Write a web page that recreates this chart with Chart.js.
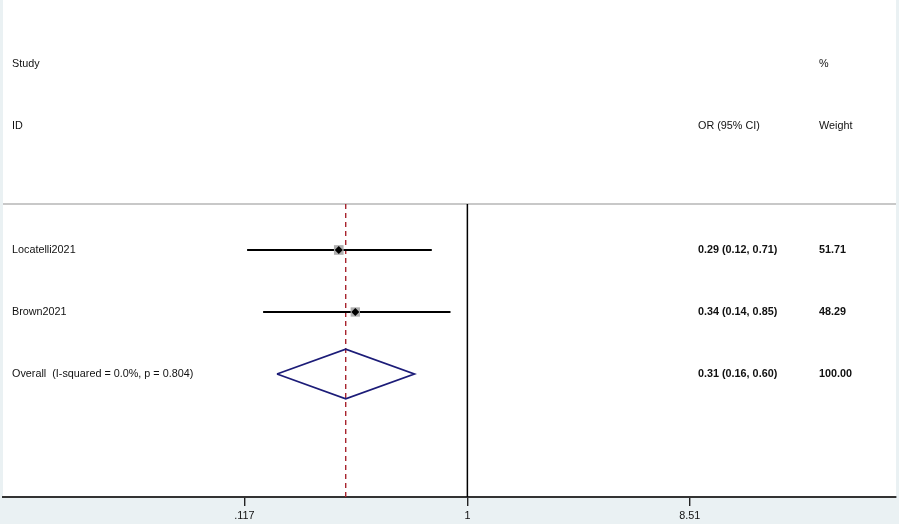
<!DOCTYPE html>
<html>
<head>
<meta charset="utf-8">
<script src="https://cdn.jsdelivr.net/npm/chart.js@4.4.1/dist/chart.umd.min.js"></script>
<style>
  body { margin: 0; background: #eaf1f3; }
  #wrap { width: 899px; height: 524px; }
</style>
</head>
<body>
<div id="wrap"><canvas id="forest" width="899" height="524"></canvas></div>
<script>
/* ---- data ---- */
const studies   = ['Locatelli2021', 'Brown2021'];
const orEst     = [0.29, 0.34];
const ciLow     = [0.12, 0.14];
const ciHigh    = [0.71, 0.85];
const weights   = [51.71, 48.29];
const overallLabel = 'Overall  (I-squared = 0.0%, p = 0.804)';
const overallEst  = 0.31;
const overallLow  = 0.16;
const overallHigh = 0.60;
const overallWeight = 100.00;
const tickValues = [0.117, 1, 8.51];
const tickLabels = ['.117', '1', '8.51'];

/* ---- row layout (y units, top = 0) ---- */
const ROW_HEAD1 = 1, ROW_HEAD2 = 2, ROW_SEP = 3.258, ROW_FIRST = 4;
const ROW_TOP = -0.032, ROW_BOTTOM = 7.984;
const rowOf = i => ROW_FIRST + i;
const overallRow = ROW_FIRST + studies.length;

const fmt = v => v.toFixed(2);
const FONT = '"Liberation Sans", Arial, sans-serif';

const datasets = [];

// point estimates (black diamond on top of grey weight box)
datasets.push({
    data: orEst.map((v, i) => ({ x: v, y: rowOf(i) })),
    pointStyle: 'rectRot', pointRadius: 4,
    backgroundColor: '#000', borderColor: '#000', borderWidth: 0, showLine: false
});
datasets.push({
    data: orEst.map((v, i) => ({ x: v, y: rowOf(i) })),
    pointStyle: 'rect', pointRadius: weights.map(w => Math.sqrt(w) * 0.95),
    backgroundColor: '#b0b0b0', borderColor: '#b0b0b0', borderWidth: 0, showLine: false
});

// confidence intervals
studies.forEach((s, i) => {
    datasets.push({
        data: [{ x: ciLow[i], y: rowOf(i) }, { x: ciHigh[i], y: rowOf(i) }],
        showLine: true, borderColor: '#000', borderWidth: 2, pointRadius: 0
    });
});

// overall diamond
datasets.push({
    data: [
        { x: overallLow, y: overallRow },
        { x: overallEst, y: overallRow - 0.4 },
        { x: overallHigh, y: overallRow },
        { x: overallEst, y: overallRow + 0.4 },
        { x: overallLow, y: overallRow }
    ],
    showLine: true, borderColor: '#1c1c78', borderWidth: 1.8, pointRadius: 0, fill: false
});

// overall effect dashed line
datasets.push({
    data: [{ x: overallEst, y: ROW_SEP }, { x: overallEst, y: ROW_BOTTOM }],
    showLine: true, borderColor: '#a8242e', borderWidth: 1.4, borderDash: [5, 4], pointRadius: 0
});

// null line
datasets.push({
    data: [{ x: 1, y: ROW_SEP }, { x: 1, y: ROW_BOTTOM }],
    showLine: true, borderColor: '#000', borderWidth: 1.5, pointRadius: 0
});

/* ---- plugins ---- */
const panelBg = {
    id: 'panelBg',
    beforeDraw(chart) {
        const { ctx, chartArea: a } = chart;
        ctx.save();
        ctx.fillStyle = '#eaf1f3';
        ctx.fillRect(0, 0, chart.width, chart.height);
        ctx.fillStyle = '#fff';
        ctx.fillRect(a.left, 0, a.right - a.left, a.bottom);
        // header separator
        const y = chart.scales.y.getPixelForValue(ROW_SEP);
        ctx.strokeStyle = '#c8c8c8';
        ctx.lineWidth = 2;
        ctx.beginPath();
        ctx.moveTo(a.left, y);
        ctx.lineTo(a.right, y);
        ctx.stroke();
        ctx.restore();
    }
};

const tableText = {
    id: 'tableText',
    afterDatasetsDraw(chart) {
        const { ctx, scales: { y } } = chart;
        const xStudy = 12, xOr = 698, xW = 819;
        ctx.save();
        ctx.fillStyle = '#111';
        ctx.textBaseline = 'middle';
        ctx.textAlign = 'left';
        const put = (t, x, row, bold) => {
            ctx.font = (bold ? 'bold ' : '') + '10.8px ' + FONT;
            ctx.fillText(t, x, y.getPixelForValue(row));
        };
        put('Study', xStudy, ROW_HEAD1);
        put('ID', xStudy, ROW_HEAD2);
        put('%', xW, ROW_HEAD1);
        put('OR (95% CI)', xOr, ROW_HEAD2);
        put('Weight', xW, ROW_HEAD2);
        studies.forEach((s, i) => {
            put(s, xStudy, rowOf(i));
            put(fmt(orEst[i]) + ' (' + fmt(ciLow[i]) + ', ' + fmt(ciHigh[i]) + ')', xOr, rowOf(i), true);
            put(fmt(weights[i]), xW, rowOf(i), true);
        });
        put(overallLabel, xStudy, overallRow);
        put(fmt(overallEst) + ' (' + fmt(overallLow) + ', ' + fmt(overallHigh) + ')', xOr, overallRow, true);
        put(fmt(overallWeight), xW, overallRow, true);
        ctx.restore();
    }
};

new Chart(document.getElementById('forest'), {
    type: 'scatter',
    data: { datasets },
    options: {
        responsive: false,
        animation: false,
        layout: { autoPadding: false, padding: { left: 3, right: 3, top: 0, bottom: 0 } },
        plugins: { legend: { display: false }, tooltip: { enabled: false } },
        scales: {
            x: {
                type: 'logarithmic',
                min: 0.01145,
                max: 61.9,
                afterBuildTicks: s => { s.ticks = tickValues.map(v => ({ value: v })); },
                afterFit: s => { s.height = 27; s.paddingLeft = 0; s.paddingRight = 0; },
                ticks: {
                    autoSkip: false, maxRotation: 0, padding: 4,
                    color: '#111', font: { family: FONT, size: 10.8 },
                    callback: (v, i) => tickLabels[i]
                },
                grid: { drawOnChartArea: false, drawTicks: true, tickLength: 9, color: '#222', lineWidth: 1.4 },
                border: { display: true, color: '#333', width: 2 }
            },
            y: {
                type: 'linear', reverse: true, min: ROW_TOP, max: ROW_BOTTOM, display: false
            }
        }
    },
    plugins: [panelBg, tableText]
});
</script>
</body>
</html>
